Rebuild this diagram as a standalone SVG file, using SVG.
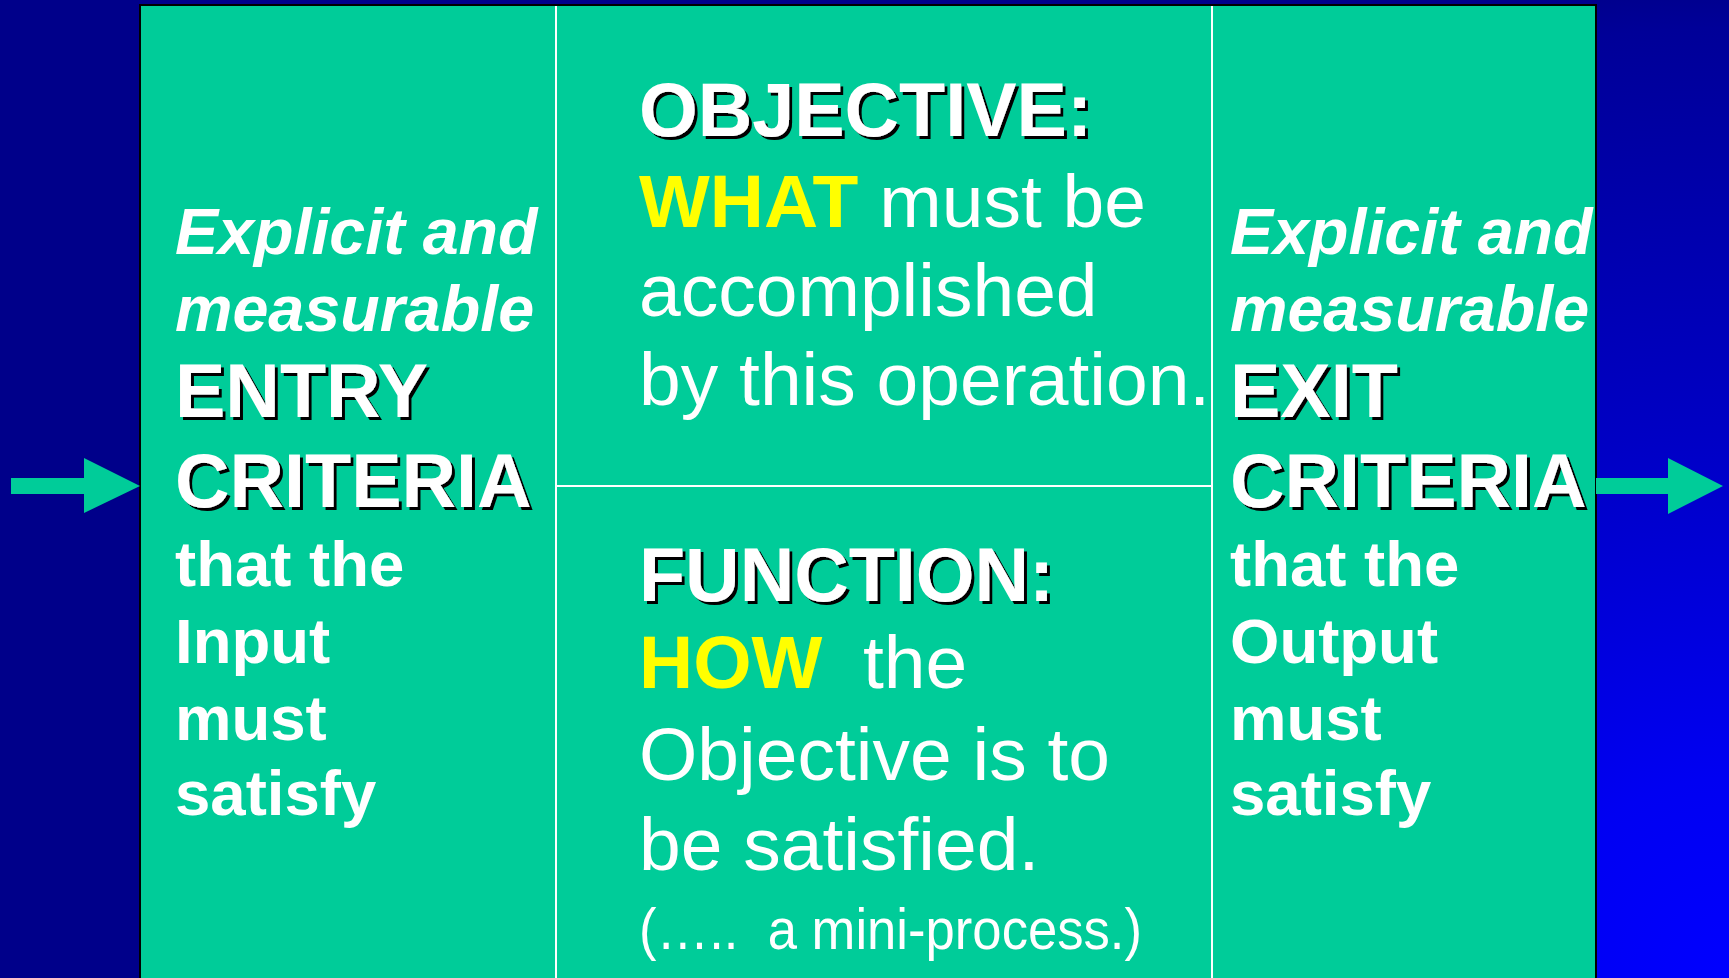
<svg xmlns="http://www.w3.org/2000/svg" width="1729" height="978" viewBox="0 0 1729 978">
  <defs>
    <radialGradient id="bg" gradientUnits="userSpaceOnUse" cx="1729" cy="978" r="1000">
      <stop offset="0" stop-color="#0000FF"/>
      <stop offset="0.2" stop-color="#0000F2"/>
      <stop offset="0.55" stop-color="#0000C4"/>
      <stop offset="0.95" stop-color="#000098"/>
      <stop offset="1" stop-color="#00008A"/>
    </radialGradient>
    <filter id="sh" x="-5%" y="-10%" width="115%" height="130%">
      <feDropShadow dx="3" dy="3" stdDeviation="0" flood-color="#000000" flood-opacity="1"/>
    </filter>
  </defs>
  <style>
    text { font-family: "Liberation Sans", Arial, sans-serif; fill: #FFFFFF; }
    .it { font-size: 64.6px; font-weight: bold; font-style: italic; }
    .cap { font-size: 75.5px; font-weight: bold; filter: url(#sh); }
    .bd { font-size: 63.5px; font-weight: bold; }
    .rg { font-size: 75px; }
    .yl { fill: #FFFF00; font-weight: bold; }
    .sm { font-size: 57px; }
    .div { stroke: #FFFFFF; stroke-width: 2; fill: none; }
    .arrow { fill: #00CC99; }
  </style>

  <rect x="0" y="0" width="1729" height="978" fill="url(#bg)"/>

  <g id="frame">
    <rect x="140" y="5" width="1456" height="990" fill="#00CC99" stroke="#000000" stroke-width="2"/>
    <line class="div" x1="556" y1="6" x2="556" y2="978"/>
    <line class="div" x1="1212" y1="6" x2="1212" y2="978"/>
    <line class="div" x1="556" y1="486" x2="1212" y2="486"/>
  </g>

  <g id="connectors">
    <polygon class="arrow" points="11,478 84,478 84,458 140,486 84,513 84,494 11,494"/>
    <polygon class="arrow" points="1596,478 1668,478 1668,458 1723,486 1668,514 1668,494 1596,494"/>
  </g>

  <g id="entry-criteria">
    <text class="it" x="175" y="254">Explicit and</text>
    <text class="it" x="175" y="331">measurable</text>
    <text class="cap" x="175" y="417">ENTRY</text>
    <text class="cap" x="175" y="507">CRITERIA</text>
    <text class="bd" x="175" y="586">that the</text>
    <text class="bd" x="175" y="663">Input</text>
    <text class="bd" x="175" y="740">must</text>
    <text class="bd" x="175" y="815">satisfy</text>
  </g>

  <g id="objective">
    <text class="cap" x="639" y="136">OBJECTIVE:</text>
    <text class="rg" x="639" y="227"><tspan class="yl">WHAT</tspan> must be</text>
    <text class="rg" x="639" y="316">accomplished</text>
    <text class="rg" x="639" y="405">by this operation.</text>
  </g>

  <g id="function">
    <text class="cap" x="639" y="601">FUNCTION:</text>
    <text class="rg" x="639" y="688"><tspan class="yl">HOW</tspan><tspan x="863">the</tspan></text>
    <text class="rg" x="639" y="780">Objective is to</text>
    <text class="rg" x="639" y="870">be satisfied.</text>
    <text class="sm" x="639" y="949" textLength="503" lengthAdjust="spacingAndGlyphs" xml:space="preserve">(…..  a mini-process.)</text>
  </g>

  <g id="exit-criteria">
    <text class="it" x="1230" y="254">Explicit and</text>
    <text class="it" x="1230" y="331">measurable</text>
    <text class="cap" x="1230" y="417">EXIT</text>
    <text class="cap" x="1230" y="507">CRITERIA</text>
    <text class="bd" x="1230" y="586">that the</text>
    <text class="bd" x="1230" y="663">Output</text>
    <text class="bd" x="1230" y="740">must</text>
    <text class="bd" x="1230" y="815">satisfy</text>
  </g>
</svg>
